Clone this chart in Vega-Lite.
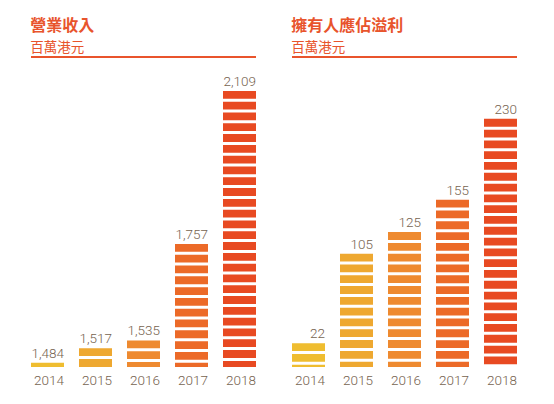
{
  "$schema": "https://vega.github.io/schema/vega-lite/v6.json",
  "description": "Revenue and profit attributable, 2014-2018, striped bars",
  "background": "white",
  "padding": {"left": 30, "top": 17, "right": 0, "bottom": 0},
  "datasets": {
    "revenue": [
      {"year": "2014", "value": 1484},
      {"year": "2015", "value": 1517},
      {"year": "2016", "value": 1535},
      {"year": "2017", "value": 1757},
      {"year": "2018", "value": 2109}
    ],
    "profit": [
      {"year": "2014", "value": 22},
      {"year": "2015", "value": 105},
      {"year": "2016", "value": 125},
      {"year": "2017", "value": 155},
      {"year": "2018", "value": 230}
    ]
  },
  "spacing": 34,
  "hconcat": [
    {
      "data": {"name": "revenue"},
      "width": 225,
      "height": 310,
      "title": {"text": "營業收入", "subtitle": "百萬港元"},
      "layer": [
        {
          "mark": {"type": "rule", "strokeWidth": 33, "strokeDash": [7.8, 3], "strokeCap": "butt"},
          "encoding": {
            "x": {"field": "year", "type": "ordinal", "scale": {"paddingInner": 0.3125, "paddingOuter": 0}, "axis": {"title": null}},
            "y": {"field": "value", "type": "quantitative", "scale": {"domain": [1474, 2187], "nice": false, "zero": false}, "axis": null},
            "y2": {"datum": 1474},
            "color": {"field": "year", "type": "ordinal", "legend": null,
              "scale": {"range": ["#efbd30", "#eea830", "#ee8a30", "#ec6a28", "#e84a22"]}}
          }
        },
        {
          "mark": {"type": "text", "align": "right", "baseline": "alphabetic", "dy": -5, "fontSize": 13.5, "font": "Roboto", "fontWeight": 300, "color": "#76634f"},
          "encoding": {
            "x": {"field": "year", "type": "ordinal", "bandPosition": 1},
            "y": {"field": "value", "type": "quantitative"},
            "text": {"field": "value", "format": ","}
          }
        },
        {
          "mark": {"type": "rule", "color": "#e8542c", "strokeWidth": 1.5},
          "encoding": {"y": {"datum": 2187, "type": "quantitative"}}
        }
      ]
    },
    {
      "data": {"name": "profit"},
      "width": 225,
      "height": 310,
      "title": {"text": "擁有人應佔溢利", "subtitle": "百萬港元"},
      "layer": [
        {
          "mark": {"type": "rule", "strokeWidth": 33, "strokeDash": [7.8, 3], "strokeCap": "butt"},
          "encoding": {
            "x": {"field": "year", "type": "ordinal", "scale": {"paddingInner": 0.3125, "paddingOuter": 0}, "axis": {"title": null}},
            "y": {"field": "value", "type": "quantitative", "scale": {"domain": [0, 287.3], "nice": false}, "axis": null},
            "y2": {"datum": 0},
            "color": {"field": "year", "type": "ordinal", "legend": null,
              "scale": {"range": ["#efbd30", "#eea830", "#ee8a30", "#ec6a28", "#e84a22"]}}
          }
        },
        {
          "mark": {"type": "text", "align": "right", "baseline": "alphabetic", "dy": -5, "fontSize": 13.5, "font": "Roboto", "fontWeight": 300, "color": "#76634f"},
          "encoding": {
            "x": {"field": "year", "type": "ordinal", "bandPosition": 1},
            "y": {"field": "value", "type": "quantitative"},
            "text": {"field": "value", "format": ","}
          }
        },
        {
          "mark": {"type": "rule", "color": "#e8542c", "strokeWidth": 1.5},
          "encoding": {"y": {"datum": 287.3, "type": "quantitative"}}
        }
      ]
    }
  ],
  "config": {
    "view": {"stroke": null},
    "title": {
      "anchor": "start",
      "font": "Noto Sans CJK TC",
      "fontSize": 16,
      "fontWeight": "bold",
      "color": "#e8542c",
      "subtitleFont": "Noto Sans CJK TC",
      "subtitleFontSize": 13.5,
      "subtitleColor": "#e8542c",
      "subtitlePadding": 7,
      "offset": 2
    },
    "axisX": {
      "domain": false,
      "ticks": false,
      "grid": false,
      "labelAngle": 0,
      "labelAlign": "right",
      "labelOffset": 16.5,
      "labelPadding": 6,
      "labelFont": "Roboto",
      "labelFontWeight": 300,
      "labelFontSize": 13.5,
      "labelColor": "#76634f"
    }
  }
}
